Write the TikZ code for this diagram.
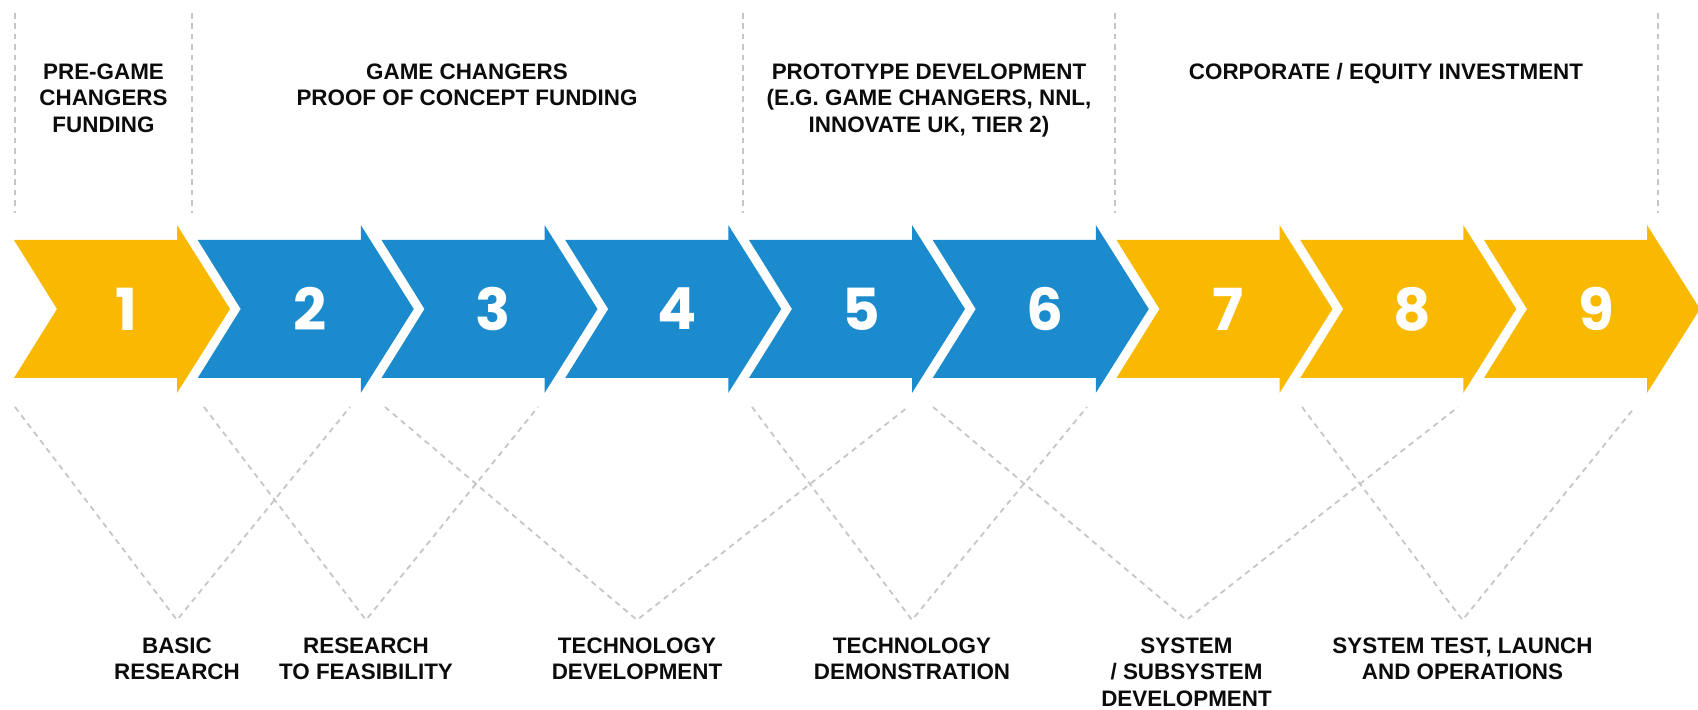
\documentclass[tikz,border=0pt]{standalone}
\usepackage{fontspec}
\setmainfont{Liberation Sans}
\newfontfamily\numfont{Poppins}
\definecolor{cyel}{RGB}{249,185,0}
\definecolor{cblu}{RGB}{27,139,205}
\definecolor{cdash}{RGB}{198,198,198}
\definecolor{ctext}{RGB}{12,12,12}
\begin{document}
\begin{tikzpicture}[x=0.5pt,y=-0.5pt,
  num/.style={text=white, font=\numfont\bfseries\fontsize{29pt}{30pt}\selectfont, inner sep=0pt},
  lbl/.style={font=\bfseries\fontsize{11.2pt}{13.4pt}\selectfont, align=center, inner sep=0pt, anchor=north, text=ctext},
  guide/.style={draw=cdash, line width=0.9pt, dash pattern=on 2.8pt off 2.4pt},
]
\useasboundingbox (0,0) rectangle (1698,710);

% chevrons
\foreach \k/\c in {1/cyel,2/cblu,3/cblu,4/cblu,5/cblu,6/cblu,7/cyel,8/cyel,9/cyel} {
  \pgfmathsetmacro\L{14+183.75*(\k-1)}
  \fill[\c] (\L,240) -- ++(163,0) -- ++(0,-15) -- ++(53,84) -- ++(-53,84) -- ++(0,-15) -- ++(-163,0) -- ++(43,-69) -- cycle;
  \node[num] (n\k) at (\L+112,309) {\k};
}

% top vertical guides
\foreach \i/\x in {1/15,2/192,3/743,4/1115,5/1658} {
  \coordinate (gt\i) at (\x,13);
  \coordinate (gb\i) at (\x,213);
  \draw[guide] (gt\i) -- (gb\i);
}

% top labels
\node[lbl] (h1) at (103.5,63) {PRE-GAME\\CHANGERS\\FUNDING};
\node[lbl] (h2) at (467,63) {GAME CHANGERS\\PROOF OF CONCEPT FUNDING};
\node[lbl] (h3) at (929,63) {PROTOTYPE DEVELOPMENT\\(E.G. GAME CHANGERS, NNL,\\INNOVATE UK, TIER 2)};
\node[lbl] (h4) at (1386,63) {CORPORATE / EQUITY INVESTMENT};

% bottom labels
\node[lbl] (b1) at (177,637) {BASIC\\RESEARCH};
\node[lbl] (b2) at (366,637) {RESEARCH\\TO FEASIBILITY};
\node[lbl] (b3) at (637,637) {TECHNOLOGY\\DEVELOPMENT};
\node[lbl] (b4) at (912,637) {TECHNOLOGY\\DEMONSTRATION};
\node[lbl] (b5) at (1186.5,637) {SYSTEM\\/ SUBSYSTEM\\DEVELOPMENT};
\node[lbl] (b6) at (1462.5,637) {SYSTEM TEST, LAUNCH\\AND OPERATIONS};

% V guides
\foreach \i/\a/\v/\b in {1/15/177/350, 2/204/366/538, 3/385/637/908, 4/752/912/1087, 5/933/1186.5/1458, 6/1302/1462.5/1635} {
  \coordinate (va\i) at (\a,407);
  \coordinate (vv\i) at (\v,620);
  \coordinate (vb\i) at (\b,407);
  \draw[guide] (va\i) -- (vv\i) -- (vb\i);
}
\end{tikzpicture}
\end{document}
